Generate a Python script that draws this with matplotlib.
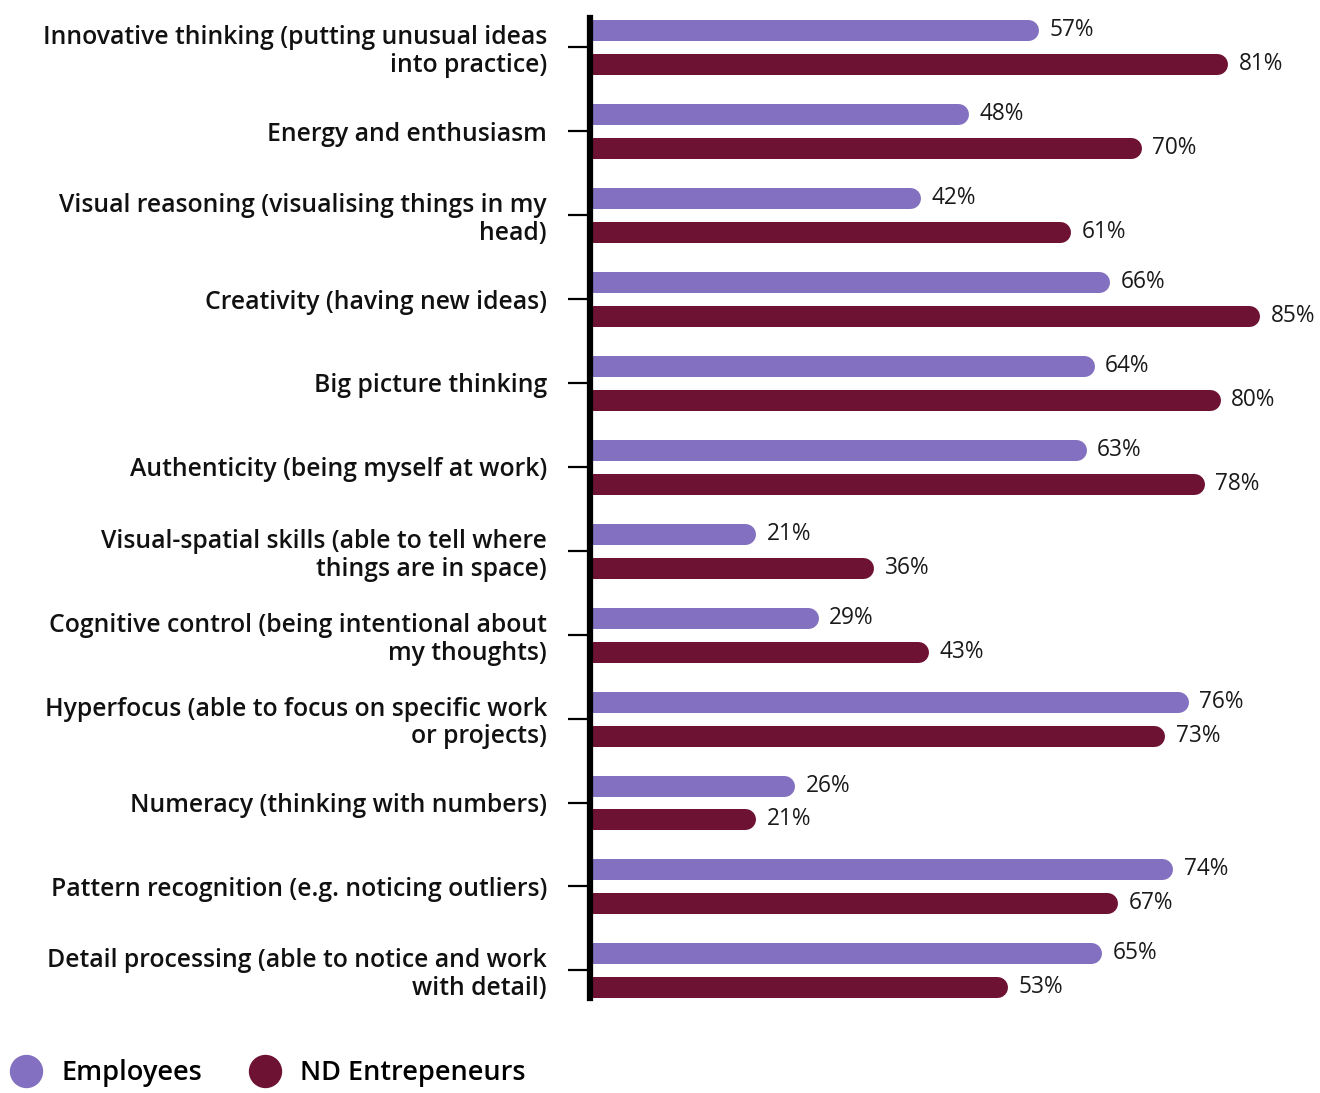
import matplotlib.pyplot as plt
from matplotlib.lines import Line2D

plt.rcParams['font.family'] = ['Open Sans', 'Noto Sans', 'DejaVu Sans']

categories = [
    "Innovative thinking (putting unusual ideas\ninto practice)",
    "Energy and enthusiasm",
    "Visual reasoning (visualising things in my\nhead)",
    "Creativity (having new ideas)",
    "Big picture thinking",
    "Authenticity (being myself at work)",
    "Visual-spatial skills (able to tell where\nthings are in space)",
    "Cognitive control (being intentional about\nmy thoughts)",
    "Hyperfocus (able to focus on specific work\nor projects)",
    "Numeracy (thinking with numbers)",
    "Pattern recognition (e.g. noticing outliers)",
    "Detail processing (able to notice and work\nwith detail)",
]
employees = [57, 48, 42, 66, 64, 63, 21, 29, 76, 26, 74, 65]
entrepreneurs = [81, 70, 61, 85, 80, 78, 36, 43, 73, 21, 67, 53]
series_names = ["Employees", "ND Entrepeneurs"]

PURPLE = "#8370c0"
MAROON = "#6e1233"

W, H = 1320, 1093
fig = plt.figure(figsize=(W / 100, H / 100), dpi=100)
ax = fig.add_axes([590 / W, 95 / H, 730 / W, 980 / H])

px_per_unit = 7.875  # pixels per percent
xmax = 730 / px_per_unit
ax.set_xlim(0, xmax)
n = len(categories)
ax.set_ylim(n - 1 + 0.33, -0.35)

bar_px = 21
lw = bar_px * 0.72
r = bar_px / 2 / px_per_unit
off = 17 / 84

for i in range(n):
    for val, dy, col in ((employees[i], -off, PURPLE), (entrepreneurs[i], off, MAROON)):
        y = i + dy
        ax.plot([-5, val - r], [y, y], color=col, lw=lw, solid_capstyle="round", zorder=2)
        ax.text(val + 11 / px_per_unit, y, f"{val}%", va="center", ha="left",
                fontsize=16.3, color="#1a1a1a")

ax.set_yticks(range(n))
ax.set_yticklabels(categories, fontsize=17.8, fontweight="semibold", color="#111111",
                   linespacing=1.15)
ax.tick_params(axis="y", length=16, width=1.6, pad=15, color="black")
ax.set_xticks([])
for s in ("top", "right", "bottom"):
    ax.spines[s].set_visible(False)
ax.spines["left"].set_linewidth(4.5)
ax.spines["left"].set_zorder(5)

handles = [Line2D([], [], marker="o", ls="", markersize=23, color=c) for c in (PURPLE, MAROON)]
fig.legend(handles, series_names, loc="center left", bbox_to_anchor=(10 / W, 20 / H),
           ncol=2, frameon=False, handlelength=1.2, handletextpad=0.7, columnspacing=1.7,
           borderpad=0, borderaxespad=0, prop={"size": 19.5, "weight": "semibold"})

fig.savefig("out.png", dpi=100)
